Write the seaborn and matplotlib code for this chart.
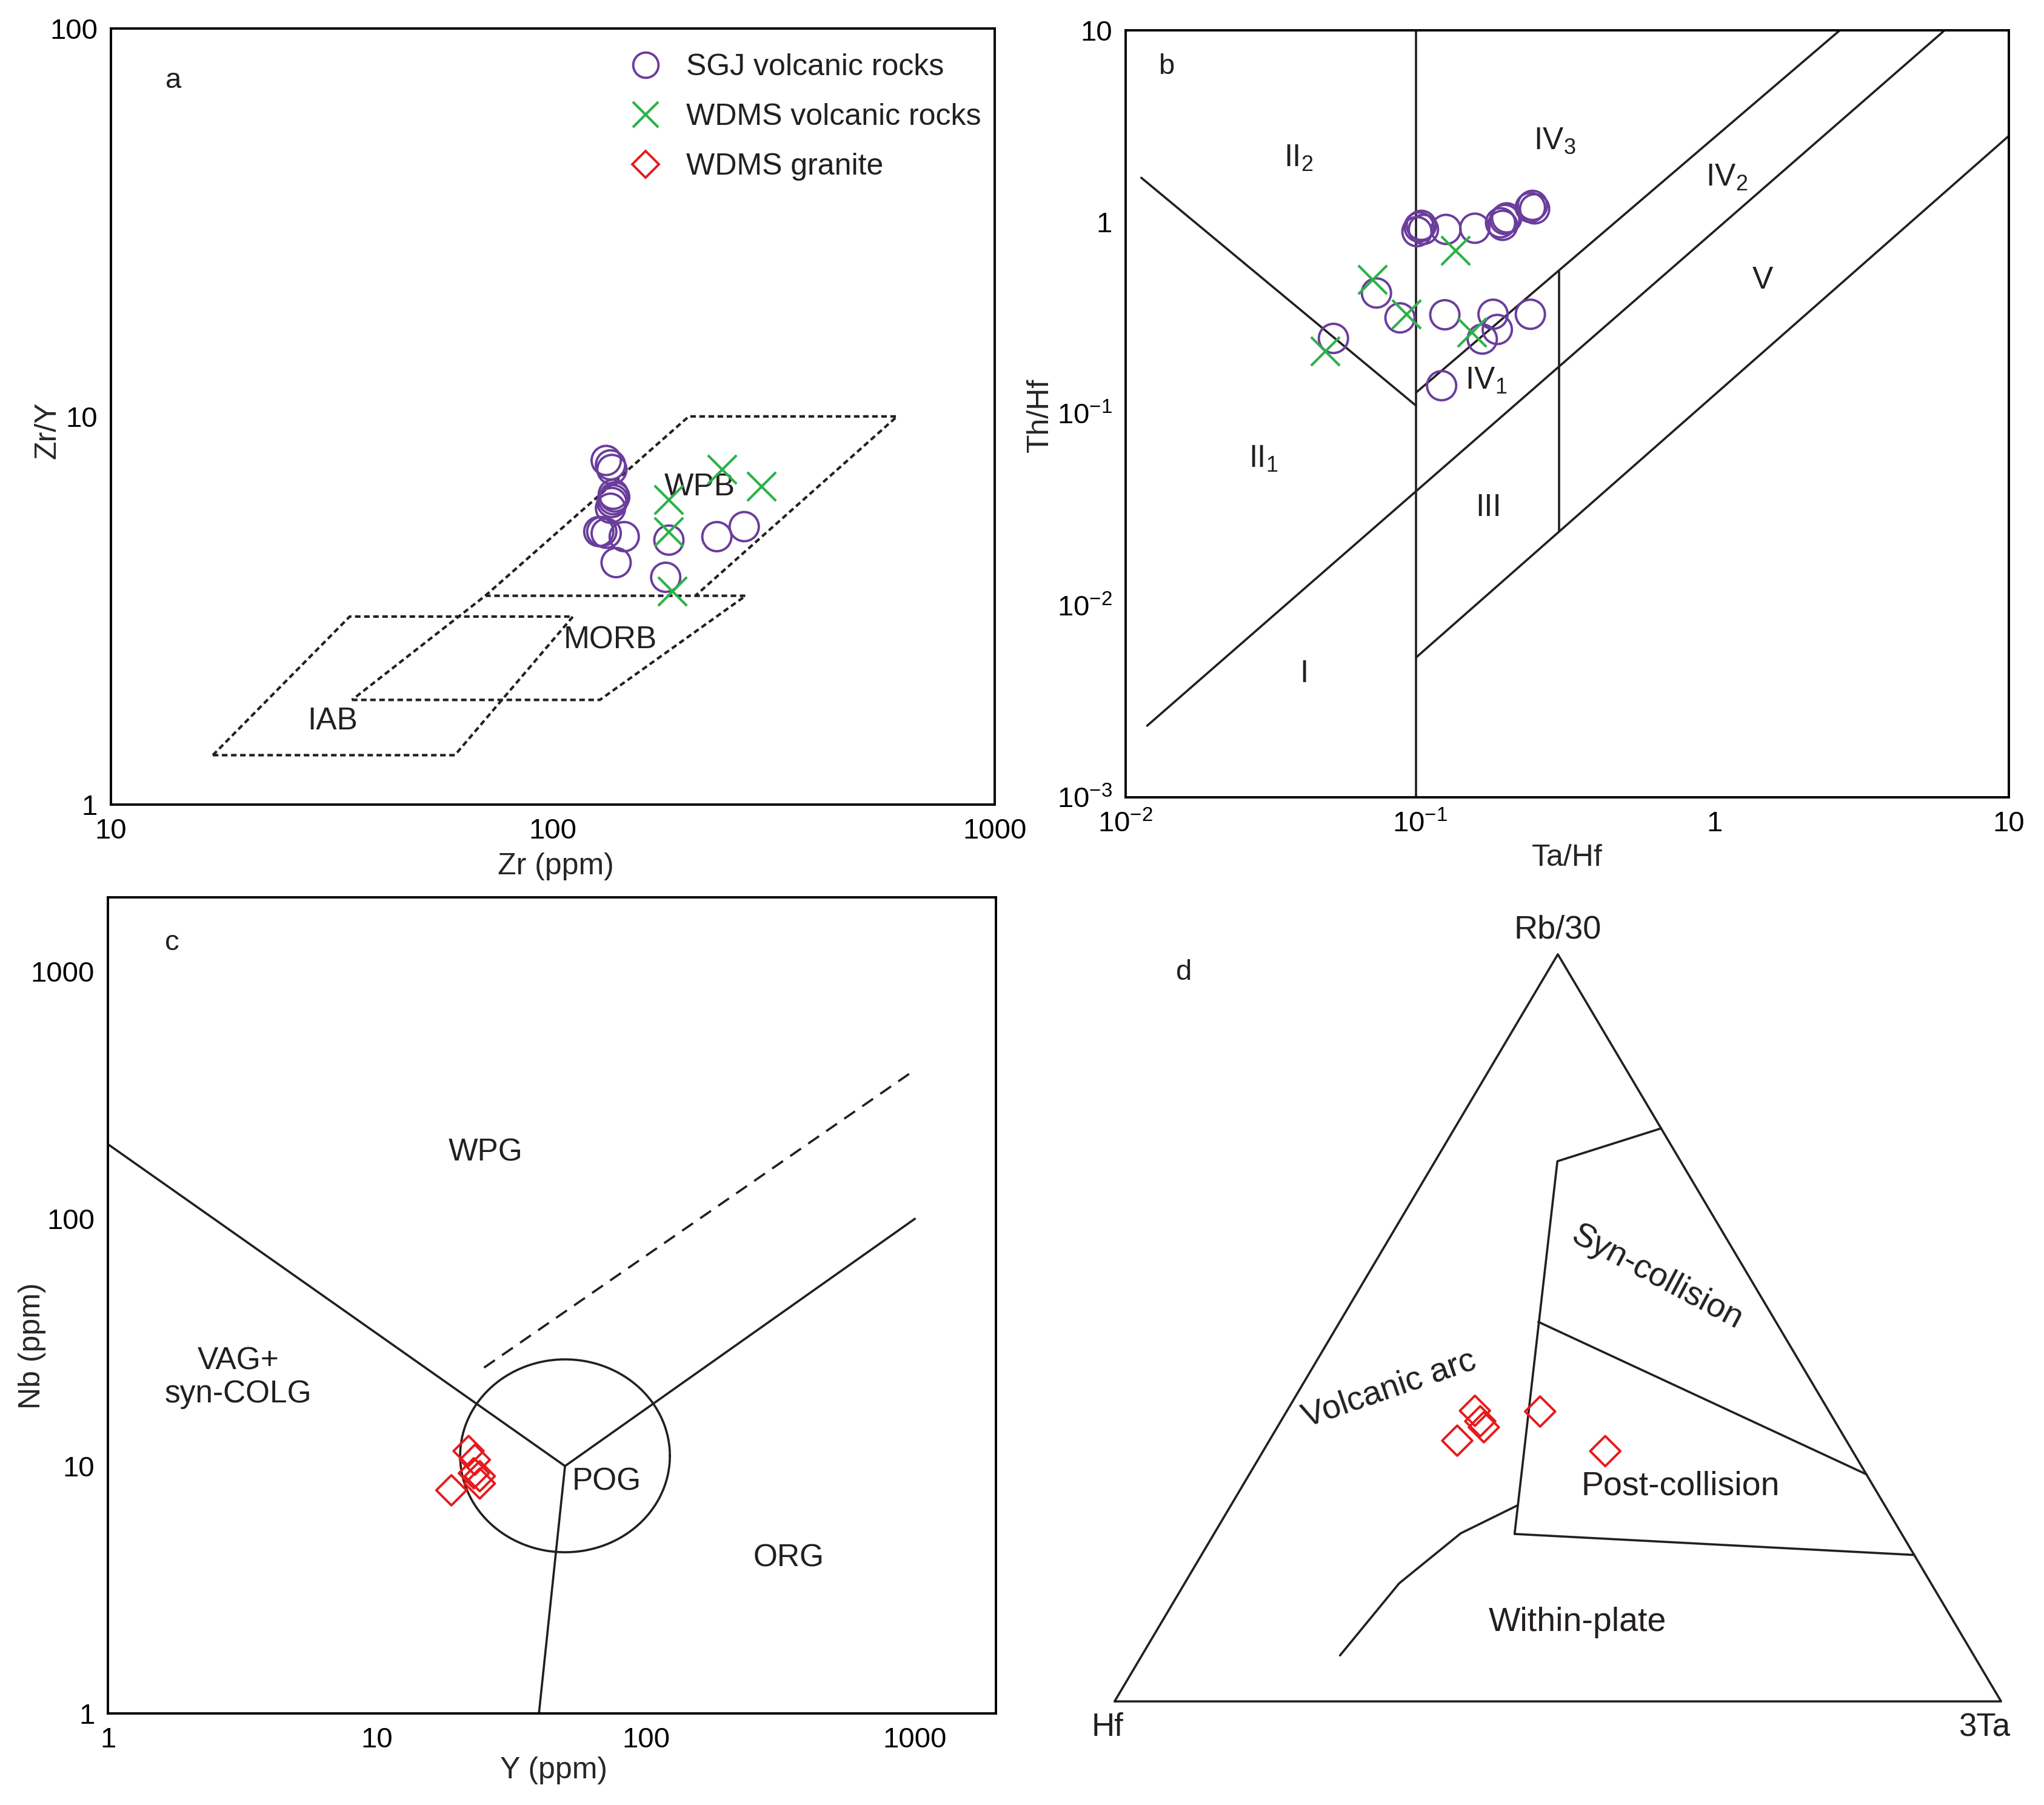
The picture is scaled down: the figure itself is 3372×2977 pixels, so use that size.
import numpy as np
import matplotlib
matplotlib.use("Agg")
import matplotlib.pyplot as plt
from matplotlib.lines import Line2D
from matplotlib.ticker import NullLocator
import seaborn as sns

PURPLE = "#6a3d9c"
GREEN = "#2eb14b"
RED = "#e8191c"

# ---------- a: Zr (ppm) vs Zr/Y ----------
a_sgj_zr = [132, 136, 135, 137, 138, 137, 136, 135, 127, 129, 132, 145, 139, 183, 235, 271, 180]
a_sgj_zry = [7.7, 7.3, 7.5, 6.3, 6.2, 6.1, 6.0, 5.8, 5.05, 5.05, 5.0, 4.9, 4.2, 4.8, 4.9, 5.2, 3.85]
a_wdms_zr = [241, 296, 183, 183, 186]
a_wdms_zry = [7.3, 6.6, 6.1, 5.05, 3.55]

# field outlines (Pearce & Norry)
iab_zr = [17.0, 60, 111, 34.7, 17.0]
iab_zry = [1.34, 1.34, 3.05, 3.05, 1.34]
morb_zr = [35.1, 127.7, 273, 70.3, 35.1]
morb_zry = [1.86, 1.86, 3.45, 3.45, 1.86]
wpb_zr = [70.3, 203, 601, 210]
wpb_zry = [3.45, 10, 10, 3.45]

# ---------- b: Ta/Hf vs Th/Hf ----------
b_sgj_tahf = [0.0993, 0.101, 0.1027, 0.0976, 0.1225, 0.1535, 0.1907, 0.194, 0.197, 0.1877, 0.237,
              0.241, 0.245, 0.0711, 0.0855, 0.1214, 0.177, 0.237, 0.183, 0.1627, 0.0508, 0.1184]
b_sgj_thhf = [0.94, 0.96, 0.914, 0.89, 0.914, 0.927, 0.96, 1.03, 1.05, 0.99, 1.19,
              1.22, 1.17, 0.426, 0.316, 0.328, 0.33, 0.33, 0.275, 0.245, 0.247, 0.140]
b_wdms_tahf = [0.1318, 0.0688, 0.0898, 0.1497, 0.0476]
b_wdms_thhf = [0.708, 0.50, 0.33, 0.266, 0.212]

b_lines = [
    ([0.0113, 0.097], [1.70, 0.110]),
    ([0.01183, 6.06], [0.00236, 10]),
    ([0.097, 2.67], [0.129, 10]),
    ([0.097, 10], [0.00536, 2.81]),
    ([0.097, 0.097], [0.001, 10]),
    ([0.296, 0.296], [0.0245, 0.55]),
]

# ---------- c: Y vs Nb ----------
c_gr_y = [21.9, 23.1, 24.1, 24.1, 22.9, 18.9]
c_gr_nb = [11.5, 10.6, 9.1, 8.5, 9.35, 7.98]
c_lines = [
    ([1, 50], [200, 10]),
    ([50, 1000], [10, 100]),
    ([50, 40], [10, 1]),
]
c_dash_y = [25, 1000]
c_dash_nb = [25, 400]
pog_center = (50, 11)
pog_radius = 0.39  # decades

# ---------- d: Hf - Rb/30 - 3Ta ----------
d_gr_hf = [39.9, 40.0, 43.9, 32.6, 27.9, 40.0]
d_gr_rb30 = [38.9, 36.7, 34.9, 38.8, 33.5, 37.5]
d_gr_3ta = [21.2, 23.3, 21.2, 28.6, 38.6, 22.5]

d_fields = [
    ([0, 13.9, 43.65], [76.7, 72.3, 22.4], [23.3, 13.8, 33.9]),
    ([26.8, 0], [50.8, 30.4], [22.4, 69.6]),
    ([43.65, 0], [22.4, 19.6], [33.9, 80.4]),
    ([41.4, 49.7, 60.0, 71.5], [26.25, 22.5, 15.8, 6.15], [32.35, 27.8, 24.2, 22.35]),
]

sns.set_theme(style="white")
plt.rcParams["font.family"] = ["Liberation Sans", "DejaVu Sans"]
plt.rcParams["mathtext.fontset"] = "custom"
plt.rcParams["mathtext.rm"] = "Liberation Sans"
plt.rcParams["mathtext.it"] = "Liberation Sans:italic"
plt.rcParams["mathtext.bf"] = "Liberation Sans:bold"
plt.rcParams["axes.linewidth"] = 1.4
plt.rcParams["axes.edgecolor"] = "black"
plt.rcParams["text.color"] = "#231f20"

TICK_FS = 17
LABEL_FS = 18
FIELD_FS = 18.5
LW = 1.3


def circles(ax, x, y):
    sns.scatterplot(x=x, y=y, ax=ax, marker="o", s=300, color=PURPLE,
                    facecolor="none", edgecolor=PURPLE, linewidth=1.4, zorder=3)


def crosses(ax, x, y):
    sns.scatterplot(x=x, y=y, ax=ax, marker="x", s=290, color=GREEN,
                    linewidth=1.5, zorder=4)


def diamonds(ax, x, y):
    sns.scatterplot(x=x, y=y, ax=ax, marker="D", s=160, color=RED,
                    facecolor="none", edgecolor=RED, linewidth=1.4, zorder=3)


def style_log(ax, minor=True):
    ax.set_xscale("log")
    ax.set_yscale("log")
    ax.tick_params(which="major", direction="in", length=11, width=1.3,
                   top=False, right=False, labelsize=TICK_FS, pad=8, colors="black")
    ax.tick_params(which="minor", direction="in", length=6, width=1.2,
                   top=False, right=False)
    if not minor:
        ax.xaxis.set_minor_locator(NullLocator())
        ax.yaxis.set_minor_locator(NullLocator())
    for s in ax.spines.values():
        s.set_color("black")
        s.set_linewidth(1.4)


def tern(hf, rb, ta):
    hf, rb, ta = (np.asarray(v, dtype=float) for v in (hf, rb, ta))
    tot = hf + rb + ta
    c = rb / tot
    b = ta / tot
    return b + c / 2, c


fig = plt.figure(figsize=(3372 / 200, 2977 / 200), dpi=200)
ax_a = fig.add_axes([0.0543, 0.5543, 0.4324, 0.43])
ax_b = fig.add_axes([0.5507, 0.5583, 0.4321, 0.425])
ax_c = fig.add_axes([0.0529, 0.0508, 0.4343, 0.4522])
ax_d = fig.add_axes([0.5453, 0.0574, 0.4337, 0.4139])

# ---- panel a ----
style_log(ax_a)
dot = (0, (2.2, 1.4))
ax_a.plot(iab_zr, iab_zry, color="#231f20", lw=1.5, ls=dot)
ax_a.plot(morb_zr, morb_zry, color="#231f20", lw=1.5, ls=dot)
ax_a.plot(wpb_zr, wpb_zry, color="#231f20", lw=1.5, ls=dot)
circles(ax_a, a_sgj_zr, a_sgj_zry)
crosses(ax_a, a_wdms_zr, a_wdms_zry)
ax_a.set_xlim(10, 1000)
ax_a.set_ylim(1, 100)
ax_a.set_xticks([10, 100, 1000], labels=["10", "100", "1000"])
ax_a.set_yticks([1, 10, 100], labels=["1", "10", "100"])
ax_a.set_xlabel("Zr (ppm)", fontsize=LABEL_FS)
ax_a.set_ylabel("Zr/Y", fontsize=LABEL_FS)
ax_a.xaxis.set_label_coords(0.503, -0.062)
ax_a.yaxis.set_label_coords(-0.056, 0.482)
ax_a.text(0.071, 0.933, "a", transform=ax_a.transAxes, fontsize=17, ha="center", va="center")
ax_a.text(215, 6.56, "WPB", fontsize=FIELD_FS, ha="center", va="center")
ax_a.text(135, 2.65, "MORB", fontsize=FIELD_FS, ha="center", va="center")
ax_a.text(31.7, 1.64, "IAB", fontsize=FIELD_FS, ha="center", va="center")

handles = [
    Line2D([], [], ls="none", marker="o", ms=15, mfc="none", mec=PURPLE, mew=1.4),
    Line2D([], [], ls="none", marker="x", ms=15, mec=GREEN, mew=1.5),
    Line2D([], [], ls="none", marker="D", ms=11, mfc="none", mec=RED, mew=1.4),
]
labels = ["SGJ volcanic rocks", "WDMS volcanic rocks", "WDMS granite"]
ax_a.legend(handles, labels, loc="upper left", bbox_to_anchor=(0.56, 0.995),
            frameon=False, fontsize=18, handlelength=1.2, handletextpad=0.75,
            labelspacing=0.72, borderaxespad=0.3)

# ---- panel b ----
style_log(ax_b)
for xs, ys in b_lines:
    ax_b.plot(xs, ys, color="#231f20", lw=LW)
circles(ax_b, b_sgj_tahf, b_sgj_thhf)
crosses(ax_b, b_wdms_tahf, b_wdms_thhf)
ax_b.set_xlim(0.01, 10)
ax_b.set_ylim(0.001, 10)
ax_b.set_xticks([0.01, 0.1, 1, 10],
                labels=[r"$\mathdefault{10^{-2}}$", r"$\mathdefault{10^{-1}}$", "1", "10"])
ax_b.set_yticks([0.001, 0.01, 0.1, 1, 10],
                labels=[r"$\mathdefault{10^{-3}}$", r"$\mathdefault{10^{-2}}$",
                        r"$\mathdefault{10^{-1}}$", "1", "10"])
ax_b.set_xlabel("Ta/Hf", fontsize=LABEL_FS)
ax_b.set_ylabel("Th/Hf", fontsize=LABEL_FS)
ax_b.xaxis.set_label_coords(0.50, -0.061)
ax_b.yaxis.set_label_coords(-0.081, 0.498)
ax_b.text(0.046, 0.952, "b", transform=ax_b.transAxes, fontsize=17, ha="center", va="center")
b_regions = [
    (0.0386, 2.14, r"II$_{\mathrm{2}}$"),
    (0.287, 2.65, r"IV$_{\mathrm{3}}$"),
    (1.10, 1.70, r"IV$_{\mathrm{2}}$"),
    (1.46, 0.494, "V"),
    (0.0294, 0.058, r"II$_{\mathrm{1}}$"),
    (0.168, 0.1486, r"IV$_{\mathrm{1}}$"),
    (0.171, 0.0322, "III"),
    (0.0404, 0.0044, "I"),
]
for x, y, t in b_regions:
    ax_b.text(x, y, t, fontsize=FIELD_FS, ha="center", va="center")

# ---- panel c ----
style_log(ax_c, minor=False)
for xs, ys in c_lines:
    ax_c.plot(xs, ys, color="#231f20", lw=LW)
ax_c.plot(c_dash_y, c_dash_nb, color="#231f20", lw=LW, ls=(0, (6, 4)))
t = np.linspace(0, 2 * np.pi, 300)
ax_c.plot(10 ** (np.log10(pog_center[0]) + pog_radius * np.cos(t)),
          10 ** (np.log10(pog_center[1]) + pog_radius * np.sin(t)),
          color="#231f20", lw=LW)
diamonds(ax_c, c_gr_y, c_gr_nb)
ax_c.set_xlim(1, 2000)
ax_c.set_ylim(1, 2000)
ax_c.set_xticks([1, 10, 100, 1000], labels=["1", "10", "100", "1000"])
ax_c.set_yticks([1, 10, 100, 1000], labels=["1", "10", "100", "1000"])
ax_c.set_xlabel("Y (ppm)", fontsize=LABEL_FS)
ax_c.set_ylabel("Nb (ppm)", fontsize=LABEL_FS)
ax_c.xaxis.set_label_coords(0.502, -0.053)
ax_c.yaxis.set_label_coords(-0.070, 0.45)
ax_c.text(0.072, 0.944, "c", transform=ax_c.transAxes, fontsize=17, ha="center", va="center")
ax_c.text(25.3, 185, "WPG", fontsize=FIELD_FS, ha="center", va="center")
ax_c.text(3.05, 22.8, "VAG+\nsyn-COLG", fontsize=FIELD_FS, ha="center", va="center", linespacing=1.15)
ax_c.text(71.3, 8.61, "POG", fontsize=FIELD_FS, ha="center", va="center")
ax_c.text(339, 4.25, "ORG", fontsize=FIELD_FS, ha="center", va="center")

# ---- panel d (ternary) ----
ax_d.set_xlim(0, 1)
ax_d.set_ylim(0, 1)
ax_d.axis("off")
tx, ty = tern([100, 0, 0, 100], [0, 0, 100, 0], [0, 100, 0, 0])
ax_d.plot(tx, ty, color="#231f20", lw=LW, clip_on=False)
for hf, rb, ta in d_fields:
    fx, fy = tern(hf, rb, ta)
    ax_d.plot(fx, fy, color="#231f20", lw=LW, clip_on=False)
gx, gy = tern(d_gr_hf, d_gr_rb30, d_gr_3ta)
diamonds(ax_d, gx, gy)
ax_d.text(0.5, 1.033, "Rb/30", fontsize=19.5, ha="center", va="center")
ax_d.text(-0.008, -0.035, "Hf", fontsize=19, ha="center", va="center")
ax_d.text(0.981, -0.035, "3Ta", fontsize=19, ha="center", va="center")
ax_d.text(0.078, 0.976, "d", fontsize=17, ha="center", va="center")
ax_d.text(0.31, 0.418, "Volcanic arc", fontsize=20, ha="center", va="center", rotation=19)
ax_d.text(0.612, 0.567, "Syn-collision", fontsize=20, ha="center", va="center", rotation=-28)
ax_d.text(0.638, 0.288, "Post-collision", fontsize=20, ha="center", va="center")
ax_d.text(0.522, 0.106, "Within-plate", fontsize=20, ha="center", va="center")

fig.savefig("out.png", dpi=200, facecolor="white")
